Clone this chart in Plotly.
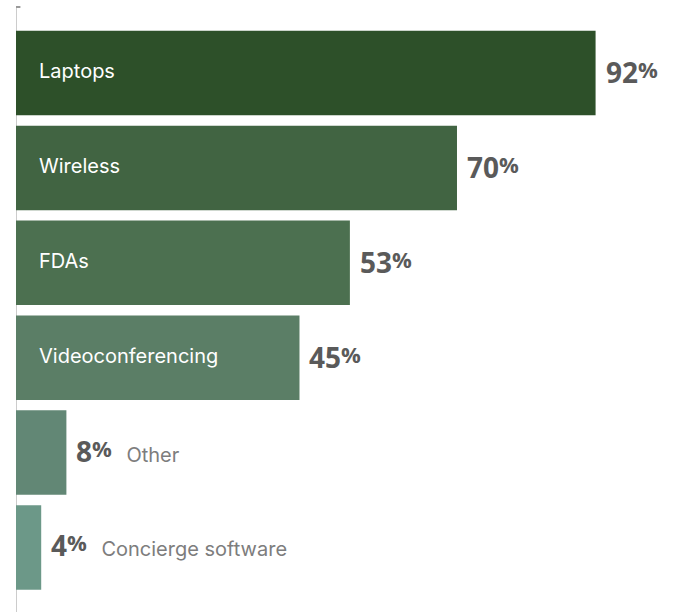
import plotly.graph_objects as go

# Share of respondents per technology
categories = ["Laptops", "Wireless", "FDAs", "Videoconferencing", "Other", "Concierge software"]
values = [92, 70, 53, 45, 8, 4]
bar_colors = ["#2d5029", "#416442", "#4c7050", "#5b7e66", "#628775", "#6c9888"]

INSIDE_MIN = 20  # bars at least this long carry their label inside

fig = go.Figure()
fig.add_trace(go.Bar(
    x=values,
    y=categories,
    orientation="h",
    width=0.89,
    marker=dict(color=bar_colors, line=dict(width=0)),
    hoverinfo="skip",
))

PCT = "<span style='font-size:22px;baseline-shift:5px'>%</span>"

annotations = []
for cat, v in zip(categories, values):
    value_txt = f"<b>{v}</b><b>{PCT}</b>"
    if v >= INSIDE_MIN:
        annotations.append(dict(
            x=0, y=cat, xref="x", yref="y", text=cat, showarrow=False,
            xanchor="left", yanchor="middle", xshift=21, yshift=2,
            font=dict(family="Inter", size=20, color="#ffffff"),
        ))
        annotations.append(dict(
            x=v, y=cat, xref="x", yref="y", text=value_txt, showarrow=False,
            xanchor="left", yanchor="middle", xshift=8, yshift=1,
            font=dict(family="Open Sans", size=28, color="#5a5a5a"),
        ))
    else:
        annotations.append(dict(
            x=v, y=cat, xref="x", yref="y",
            text=value_txt + f"  <span style='font-family:Inter;font-size:20px;color:#7d7d7d'>{cat}</span>",
            showarrow=False,
            xanchor="left", yanchor="middle", xshift=8, yshift=2,
            font=dict(family="Open Sans", size=28, color="#5a5a5a"),
        ))

shapes = [
    # baseline axis with a small cap at the top
    dict(type="line", xref="x", yref="paper", x0=-0.08, x1=-0.08, y0=0, y1=1,
         line=dict(color="#9a9a9a", width=2), layer="below"),
    dict(type="line", xref="x", yref="paper", x0=-0.45, x1=0.7, y0=1, y1=1,
         line=dict(color="#9a9a9a", width=2), layer="below"),
]

fig.update_layout(
    width=680, height=612,
    margin=dict(l=16, r=0, t=7, b=0),
    paper_bgcolor="#ffffff", plot_bgcolor="#ffffff",
    showlegend=False,
    annotations=annotations,
    shapes=shapes,
    xaxis=dict(range=[0, 105.4], visible=False, fixedrange=True),
    yaxis=dict(categoryorder="array", categoryarray=categories,
               range=[5.68, -0.696], visible=False, fixedrange=True),
)

fig.write_html("out.html", config={"displayModeBar": False})
